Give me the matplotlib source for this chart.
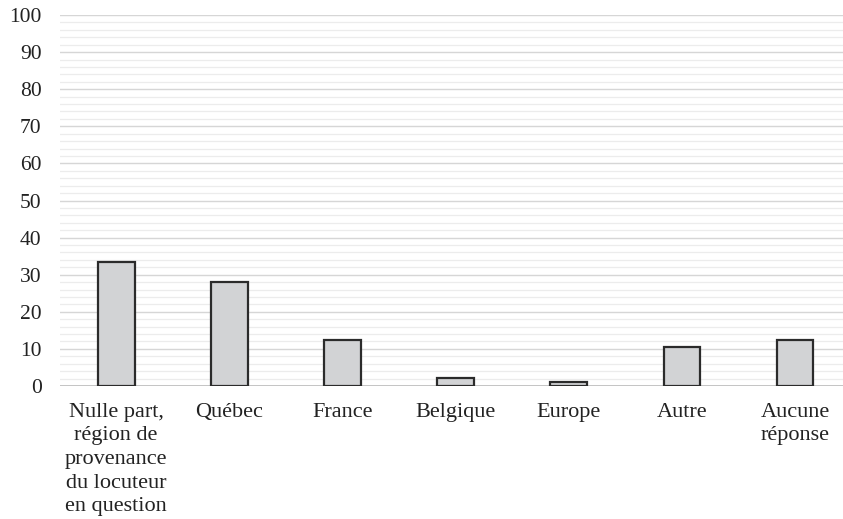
import matplotlib
matplotlib.use("Agg")
import matplotlib.pyplot as plt
from matplotlib.ticker import MultipleLocator

# Répartition des réponses (%)
categories = [
    "Nulle part,\nrégion de\nprovenance\ndu locuteur\nen question",
    "Québec",
    "France",
    "Belgique",
    "Europe",
    "Autre",
    "Aucune\nréponse",
]
values = [33.3, 28.1, 12.5, 2.1, 1.0, 10.4, 12.5]
y_ticks = list(range(0, 101, 10))

plt.rcParams["font.family"] = ["Liberation Serif", "DejaVu Serif"]

fig = plt.figure(figsize=(8.43, 5.19), dpi=100)
ax = fig.add_axes([59.6 / 843, 133 / 519, 792 / 843, 371 / 519])

x = list(range(len(categories)))
ax.bar(x, values, width=0.325, color="#d2d3d5", edgecolor="#2b2b2b",
       linewidth=1.6, zorder=3)

ax.set_xlim(-0.5, len(categories) - 0.5)
ax.set_ylim(0, 100)
ax.set_yticks(y_ticks)
ax.yaxis.set_minor_locator(MultipleLocator(2))

ax.grid(axis="y", which="major", color="#d6d6d6", linewidth=1.0, zorder=0)
ax.grid(axis="y", which="minor", color="#ececec", linewidth=0.9, zorder=0)
ax.axhline(0, color="#c4c4c4", linewidth=1.4, zorder=2)

for side in ("top", "right", "left", "bottom"):
    ax.spines[side].set_visible(False)

ax.set_xticks(x)
ax.set_xticklabels(categories, fontsize=16, color="#222222",
                   linespacing=1.33)
ax.tick_params(axis="x", length=0, pad=12)
ax.tick_params(axis="y", which="both", length=0, pad=13, labelsize=15.5,
               labelcolor="#222222")

fig.savefig("out.png", dpi=100)
